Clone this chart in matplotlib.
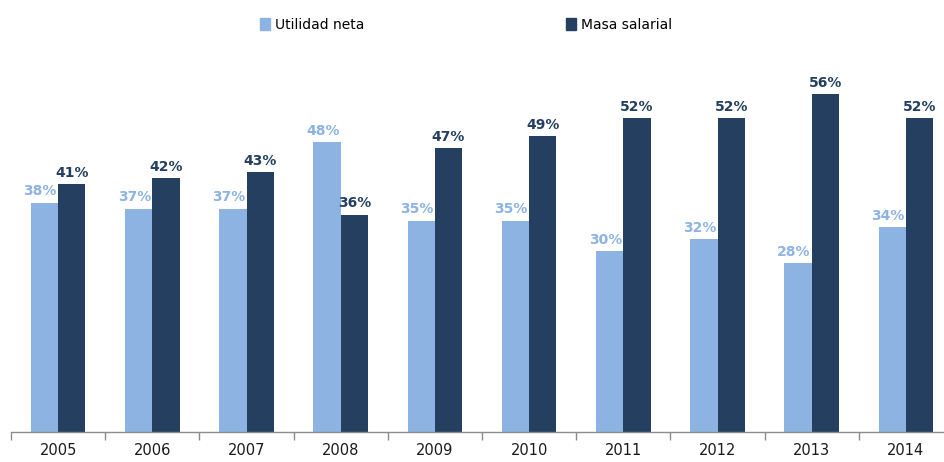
import matplotlib.pyplot as plt
from matplotlib.patches import Patch
import numpy as np

# ====== data ======
years = ["2005", "2006", "2007", "2008", "2009", "2010", "2011", "2012", "2013", "2014"]
utilidad = [38, 37, 37, 48, 35, 35, 30, 32, 28, 34]
masa = [41, 42, 43, 36, 47, 49, 52, 52, 56, 52]

color_light = "#8DB3E2"
color_dark = "#243F60"
color_axis = "#8C8C8C"

fig = plt.figure(figsize=(9.44, 4.62), dpi=100)
# the plot area runs past the right edge of the figure, as in the original
ax = fig.add_axes([11 / 944, 30 / 462, 942 / 944, 372 / 462])

x = np.arange(len(years))
w = 0.29
ax.bar(x - w / 2, utilidad, w, color=color_light, zorder=2)
ax.bar(x + w / 2, masa, w, color=color_dark, zorder=2)

for xi, v in zip(x, utilidad):
    ax.annotate(f"{v}%", (xi - w / 2, v), xytext=(-3, 3), textcoords="offset points",
                ha="center", va="bottom", fontsize=10, fontweight="bold", color=color_light)
for xi, v in zip(x, masa):
    ax.annotate(f"{v}%", (xi + w / 2, v), xytext=(0, 3), textcoords="offset points",
                ha="center", va="bottom", fontsize=10, fontweight="bold", color=color_dark)

ax.set_xlim(-0.5, len(years) - 0.5)
ax.set_ylim(0, 61.6)
ax.set_yticks([])
ax.set_xticks(x)
ax.set_xticklabels(years, fontsize=10.5, color="#1A1A1A")
ax.tick_params(axis="x", which="major", length=0, pad=8)
ax.set_xticks(np.arange(-0.5, len(years)), minor=True)
ax.tick_params(axis="x", which="minor", length=6, color=color_axis, width=1)
for s in ["top", "right", "left"]:
    ax.spines[s].set_visible(False)
ax.spines["bottom"].set_color(color_axis)
ax.spines["bottom"].set_linewidth(1)

handles = [Patch(color=color_light, label="Utilidad neta"),
           Patch(color=color_dark, label="Masa salarial")]
fig.legend(handles=handles, loc="center", bbox_to_anchor=(466 / 944, 1 - 25 / 462),
           ncol=2, frameon=False, fontsize=10, handlelength=0.7, handleheight=1.0,
           handletextpad=0.4, columnspacing=14.5)

fig.savefig("out.png", dpi=100, facecolor="white")
plt.close()
